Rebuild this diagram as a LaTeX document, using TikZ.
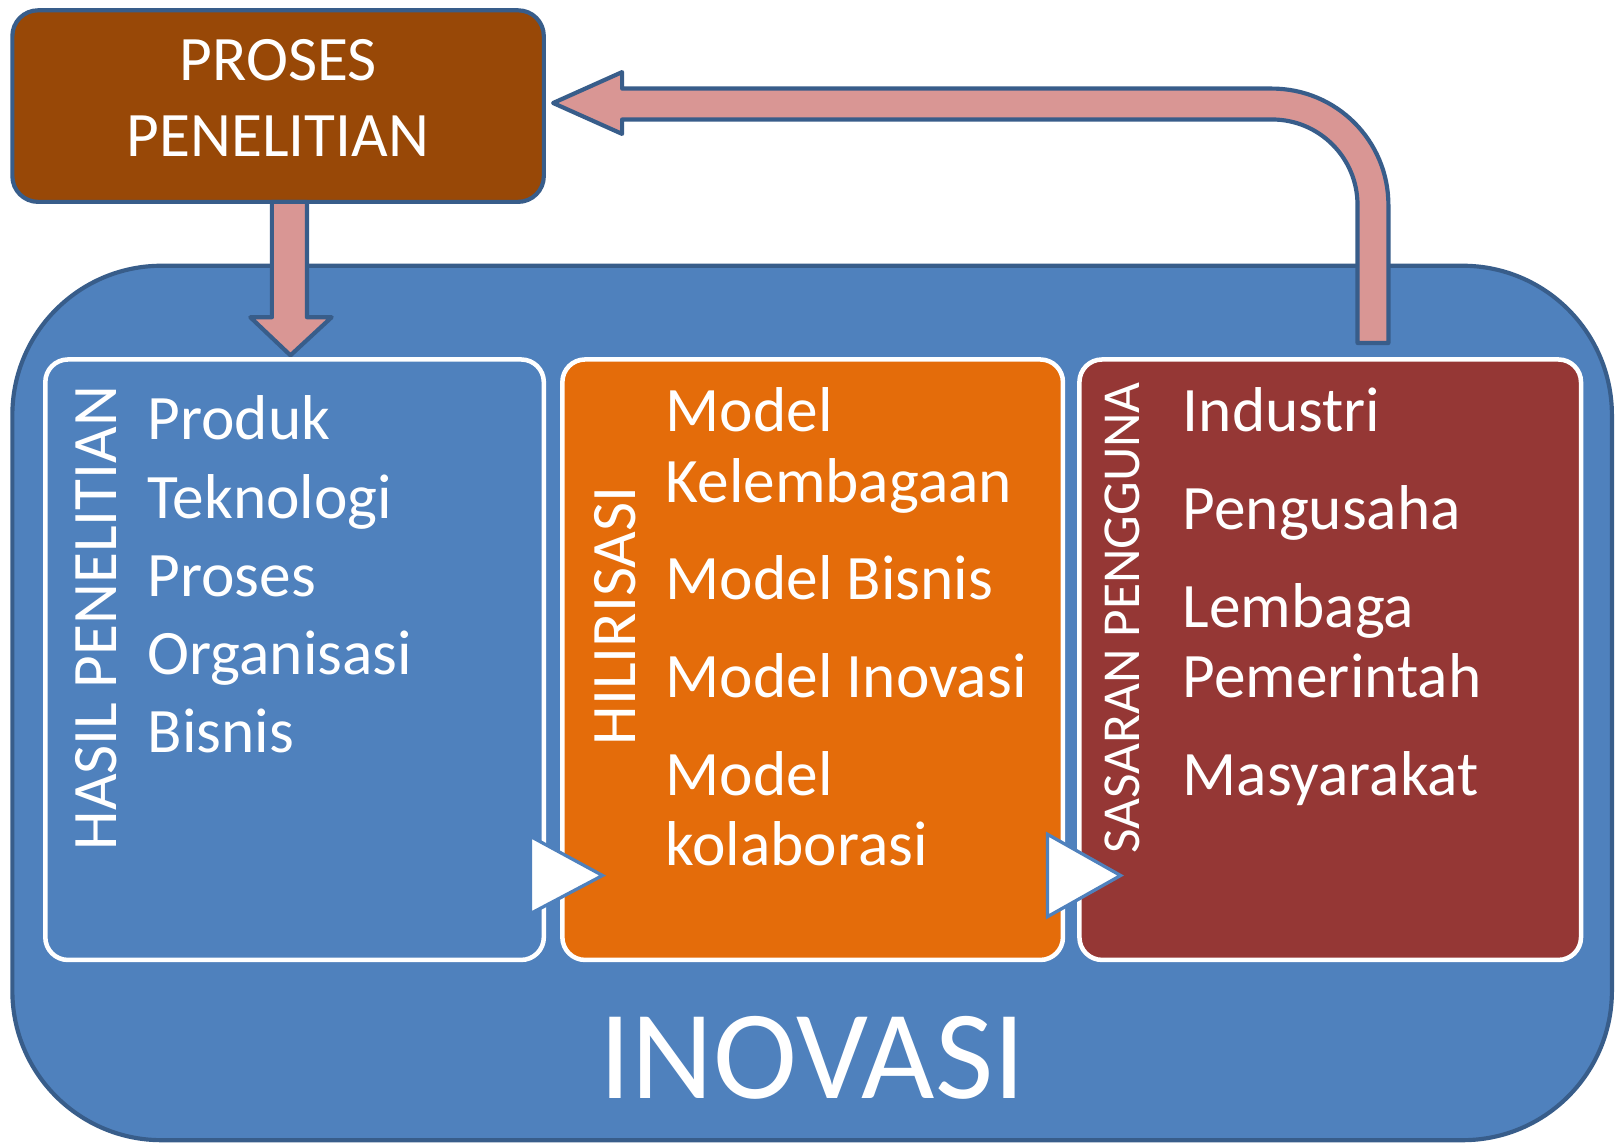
\documentclass[tikz,border=0pt]{standalone}
\usepackage{fontspec}
\setmainfont{Carlito}
\usetikzlibrary{fit}
\definecolor{bordblue}{HTML}{385D8A}
\definecolor{mainblue}{HTML}{4F81BD}
\definecolor{brownbox}{HTML}{984807}
\definecolor{orangebox}{HTML}{E46C0A}
\definecolor{redbox}{HTML}{953735}
\definecolor{pinkarrow}{HTML}{D99694}
\tikzset{
  outerbox/.style={fill=mainblue, draw=bordblue, line width=2.3pt, rounded corners=2.9cm},
  topbox/.style={fill=brownbox, draw=bordblue, line width=2.3pt, rounded corners=0.5cm, inner sep=0pt},
  innerbox/.style={draw=white, line width=2.5pt, rounded corners=0.44cm, inner sep=0pt},
  blockarrow/.style={fill=pinkarrow, draw=bordblue, line width=2.3pt, line join=round},
  tri/.style={fill=white, draw=mainblue, line width=1.8pt, line join=miter},
  item/.style={text=white, font=\fontsize{35}{42}\selectfont, inner sep=0pt, anchor=base west},
  vlabel/.style={text=white, font=\fontsize{35}{42}\selectfont, inner sep=0pt, rotate=90},
  vlabelsmall/.style={text=white, font=\fontsize{29.5}{36}\selectfont, inner sep=0pt, rotate=90},
  toptext/.style={text=white, font=\fontsize{35}{42}\selectfont, inner sep=0pt, anchor=base},
  bigtext/.style={text=white, font=\fontsize{70}{84}\selectfont, inner sep=0pt, anchor=base}
}
\begin{document}
\begin{tikzpicture}[x=0.02cm,y=-0.02cm]
\useasboundingbox (0,0) rectangle (1568,1109);
\fill[white] (0,0) rectangle (1568,1109);
% outer INOVASI box
\path[outerbox] (12,258) rectangle (1565,1107);
\node[fit={(12,258) (1565,1107)}, inner sep=0pt] (inovbox) {};
% top box
\node[topbox, fit={(12,10) (528,196)}] (proses) {};
\node[toptext] (proses1) at (270,78) {PROSES};
\node[toptext] (proses2) at (270,152) {PENELITIAN};
% inner boxes
\node[innerbox, fill=mainblue, fit={(44,349) (528,932)}] (hasil) {};
\node[innerbox, fill=orangebox, fit={(546,349) (1032,932)}] (hilir) {};
\node[innerbox, fill=redbox, fit={(1048,349) (1535,932)}] (sasaran) {};
% down arrow
\path[blockarrow] (264,196) -- (264,308) -- (243,308) -- (282,345) -- (322,308) -- (298,308) -- (298,196) -- cycle;
% return arrow
\path[blockarrow] (1318,333) -- (1318,199) arc[start angle=0, end angle=90, x radius=83, y radius=-83]
  -- (604,116) -- (604,130) -- (537,100) -- (604,70) -- (604,86) -- (1235,86)
  arc[start angle=90, end angle=0, x radius=113, y radius=-113] -- (1348,333) -- cycle;
% triangles
\draw[tri] (515,812) -- (515,887) -- (585,850) -- cycle;
\draw[tri] (1017,810) -- (1017,890) -- (1088,850) -- cycle;
% vertical labels
\node[vlabel] (lab1) at (93,600) {HASIL PENELITIAN};
\node[vlabel] (lab2) at (597,598) {HILIRISASI};
\node[vlabelsmall] (lab3) at (1090,600) {SASARAN PENGGUNA};
% box 1 items
\node[item] (a1) at (143,427) {Produk};
\node[item] (a2) at (143,503) {Teknologi};
\node[item] (a3) at (143,579) {Proses};
\node[item] (a4) at (143,655) {Organisasi};
\node[item] (a5) at (143,731) {Bisnis};
% box 2 items
\node[item] (b1) at (646,419) {Model};
\node[item] (b2) at (646,488) {Kelembagaan};
\node[item] (b3) at (646,582) {Model Bisnis};
\node[item] (b4) at (646,677) {Model Inovasi};
\node[item] (b5) at (646,772) {Model};
\node[item] (b6) at (646,840) {kolaborasi};
% box 3 items
\node[item] (c1) at (1148,419) {Industri};
\node[item] (c2) at (1148,514) {Pengusaha};
\node[item] (c3) at (1148,609) {Lembaga};
\node[item] (c4) at (1148,677) {Pemerintah};
\node[item] (c5) at (1148,772) {Masyarakat};
% big label
\node[bigtext] (inov) at (789,1067) {INOVASI};
\end{tikzpicture}
\end{document}
